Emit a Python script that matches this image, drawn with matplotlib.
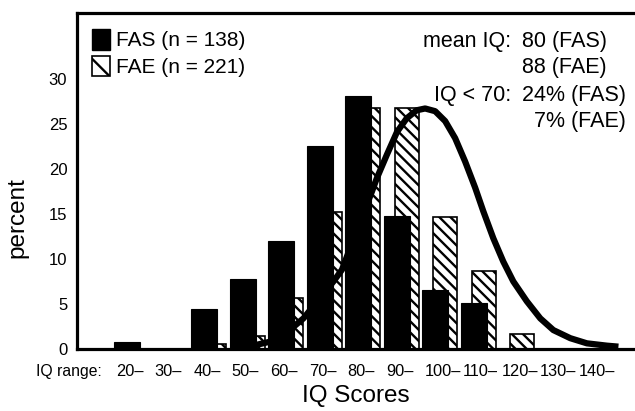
import matplotlib
matplotlib.use('Agg')
import matplotlib.pyplot as plt
import matplotlib.patches as mpatches
import numpy as np

plt.rcParams['font.family'] = ['Liberation Sans', 'DejaVu Sans']
plt.rcParams['hatch.linewidth'] = 1.7

# IQ bins (lower bound) and percentages
bins = ['20–', '30–', '40–', '50–', '60–', '70–', '80–', '90–', '100–', '110–', '120–', '130–', '140–']
fas = [0.8, 0, 4.4, 7.8, 12.0, 22.5, 28.1, 14.8, 6.6, 5.1, 0, 0, 0]
fae = [0, 0, 0.6, 1.4, 5.7, 15.2, 26.7, 26.7, 14.7, 8.7, 1.7, 0, 0]

# reference curve, points (x in bin units)
curve_x = [2.94, 3.3, 3.7, 4.0, 4.36, 4.58, 5.36, 5.58, 5.97, 6.36, 6.49, 6.75,
           7.01, 7.26, 7.52, 7.74, 8.0, 8.26, 8.52, 8.78, 9.04, 9.25, 9.51,
           9.77, 10.03, 10.38, 10.73, 11.07, 11.51, 11.94, 12.46, 12.76]
curve_y = [0.2, 0.4, 0.8, 1.4, 2.6, 3.4, 7.5, 8.8, 13.2, 17.5, 19.0, 21.6,
           24.1, 25.6, 26.5, 26.7, 26.4, 25.3, 23.4, 20.8, 17.9, 15.3, 12.3,
           9.7, 7.5, 5.3, 3.4, 2.1, 1.2, 0.63, 0.37, 0.26]

W, H = 635, 411
fig = plt.figure(figsize=(W / 100, H / 100), dpi=100)
ax = fig.add_axes([77 / W, 1 - 349 / H, (W - 77) / W, (349 - 13) / H])

x = np.arange(len(bins))
ax.bar(x + 0.26, fae, width=0.62, color='white', edgecolor='black',
       linewidth=1.2, hatch='\\\\\\', zorder=1)
ax.bar(x, fas, width=0.675, color='black', edgecolor='black', linewidth=0.8, zorder=2)
ax.plot(curve_x, curve_y, color='black', lw=4.5, solid_capstyle='butt',
        solid_joinstyle='round', zorder=3)

ax.set_xlim(-1.30, 13.19)
ax.set_ylim(0, 37.3)

for s in ['left', 'top', 'bottom']:
    ax.spines[s].set_linewidth(2.3)
ax.spines['right'].set_visible(False)

ax.set_yticks([0, 5, 10, 15, 20, 25, 30])
ax.tick_params(axis='y', length=0, pad=7, labelsize=12)
ax.set_xticks(x - 0.28, bins, ha='left')
ax.tick_params(axis='x', length=0, pad=10.5, labelsize=11.8)
ax.annotate('IQ range:', xy=(-0.65, 0), xycoords=ax.get_xaxis_transform(),
            xytext=(0, -10.5), textcoords='offset points',
            ha='right', va='top', fontsize=11.3)

fig.text(356 / W, 1 - 396 / H, 'IQ Scores', ha='center', va='center', fontsize=17.5)
fig.text(17 / W, 1 - 218 / H, 'percent', ha='center', va='center', rotation=90, fontsize=17.5)

# legend
h1 = mpatches.Patch(facecolor='black', edgecolor='black')
h2 = mpatches.Patch(facecolor='white', edgecolor='black', hatch='\\', linewidth=1.2)
ax.legend([h1, h2], ['FAS (n = 138)', 'FAE (n = 221)'], loc='upper left',
          bbox_to_anchor=(15 / 558, (349 - 29) / 336), frameon=False, fontsize=15,
          handlelength=0.85, handleheight=1.15, handletextpad=0.3, labelspacing=0.25,
          borderpad=0, borderaxespad=0)

# summary text
def ftxt(px, py, s):
    fig.text(px / W, 1 - py / H, s, ha='right', va='center', fontsize=15.5)

ftxt(511, 42, 'mean IQ:')
ftxt(607, 42, '80 (FAS)')
ftxt(607, 67, '88 (FAE)')
ftxt(511, 96, 'IQ < 70:')
ftxt(626, 96, '24% (FAS)')
ftxt(626, 121, '7% (FAE)')

fig.savefig('out.png', dpi=100)
